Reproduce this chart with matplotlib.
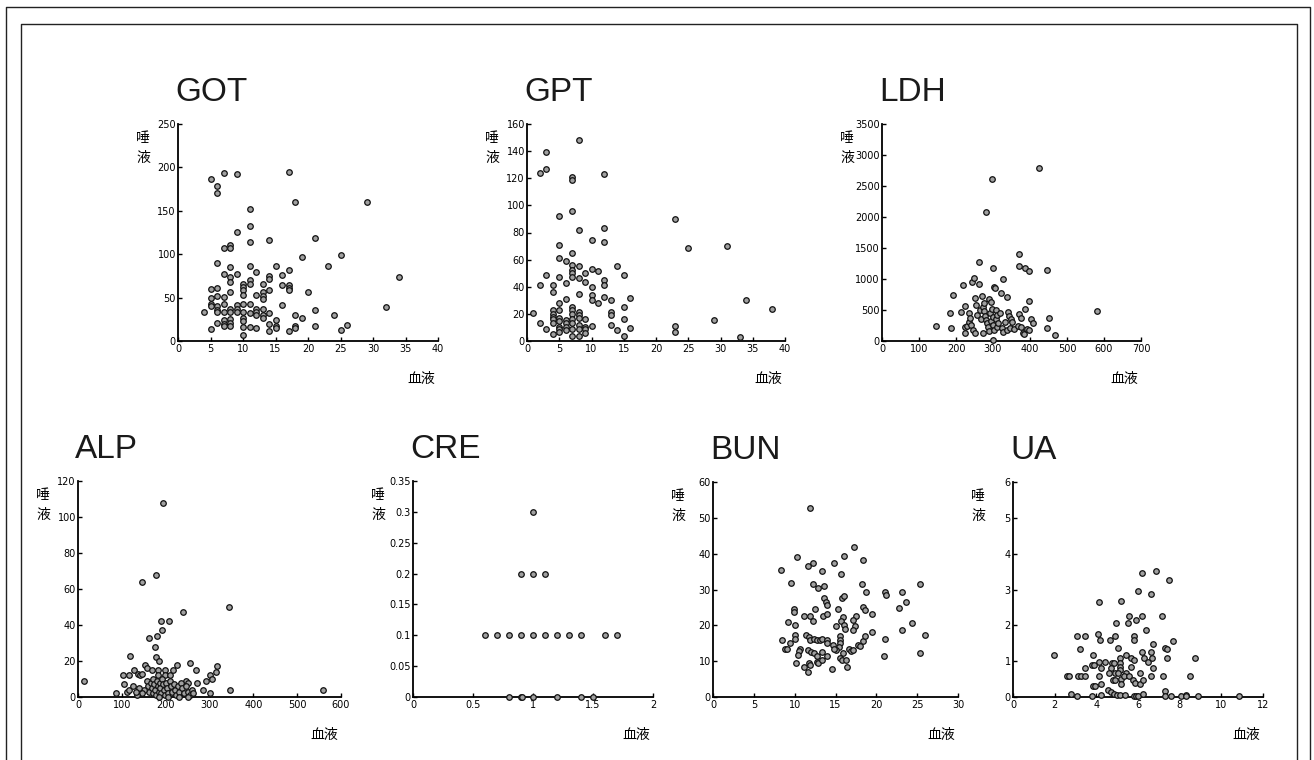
import numpy as np
import matplotlib
matplotlib.use("Agg")
import matplotlib.pyplot as plt
from matplotlib.lines import Line2D

plt.rcParams['font.family'] = ['DejaVu Sans', 'Noto Sans CJK JP']

# (血液, 唾液) pairs
got_points = [(4, 33), (5, 187), (6, 179), (6, 170), (7, 193), (9, 192), (17, 195), (18, 160), (29, 160),
              (11, 152), (11, 132), (9, 126), (11, 114), (14, 116), (21, 119), (7, 107), (8, 111), (8, 107),
              (19, 97), (25, 99), (23, 86), (6, 90), (8, 85), (11, 86), (15, 86), (12, 80), (7, 77), (9, 77),
              (8, 74), (8, 68), (17, 82), (16, 76), (14, 75), (14, 71), (34, 74), (10, 66), (10, 62), (10, 59),
              (11, 70), (11, 66), (13, 66), (16, 64), (17, 64), (17, 61), (17, 59), (14, 59), (5, 60), (6, 61),
              (8, 57), (20, 56), (13, 57), (13, 52), (13, 48), (12, 53), (10, 53), (5, 49), (6, 52), (7, 51),
              (5, 43), (5, 40), (6, 40), (6, 36), (6, 33), (7, 43), (7, 33), (8, 37), (8, 33), (9, 41), (9, 37),
              (9, 33), (10, 43), (10, 33), (10, 27), (10, 23), (11, 43), (11, 32), (12, 37), (12, 33), (12, 30),
              (13, 37), (13, 30), (13, 27), (14, 32), (16, 41), (18, 30), (19, 27), (21, 36), (24, 30), (32, 39),
              (6, 21), (7, 24), (7, 20), (7, 17), (8, 25), (8, 21), (8, 17), (15, 24), (15, 17), (15, 15),
              (14, 20), (5, 14), (10, 16), (11, 16), (12, 15), (14, 11), (17, 11), (18, 17), (18, 15), (21, 17),
              (25, 13), (26, 19), (10, 7)]

gpt_points = [(1, 21), (2, 124), (2, 41), (2, 13), (3, 139), (3, 127), (3, 49), (3, 9), (4, 41), (4, 36),
              (4, 23), (4, 20), (4, 18), (4, 16), (4, 13.5), (4, 5), (5, 92), (5, 71), (5, 61), (5, 47.5),
              (5, 28), (5, 23), (5, 17), (5, 15), (5, 10.6), (5, 8.6), (5, 6.6), (6, 59), (6, 43), (6, 31),
              (6, 15.5), (6, 13), (6, 10.6), (6, 8), (7, 121), (7, 119), (7, 95.5), (7, 65), (7, 56), (7, 52),
              (7, 50), (7, 47.5), (7, 25), (7, 23), (7, 20), (7, 16.5), (7, 13.5), (7, 8.6), (7, 4), (8, 148),
              (8, 81.5), (8, 55), (8, 46.5), (8, 35), (8, 21.6), (8, 19), (8, 17), (8, 12), (8, 9), (8, 3.7),
              (9, 50.5), (9, 43.5), (9, 16), (9, 10.6), (9, 8.6), (9, 6), (10, 74.6), (10, 53.4), (10, 39.6),
              (10, 33.7), (10, 30), (10, 11), (11, 51.4), (11, 28), (12, 123), (12, 83.4), (12, 73), (12, 45),
              (12, 41.6), (12, 32.7), (13, 30), (13, 21.6), (13, 19), (13, 11.6), (14, 55.4), (14, 8), (15, 49),
              (15, 25), (15, 16), (15, 3.7), (16, 31.5), (16, 9.6), (23, 90), (23, 11), (23, 6.6), (25, 68.7),
              (29, 15.5), (31, 70), (33, 3), (34, 30), (38, 23.4)]

ldh_points = [(146, 242), (184, 446), (186, 205), (191, 735), (214, 470), (220, 903), (223, 124), (223, 220),
              (225, 570), (231, 240), (234, 306), (236, 446), (237, 379), (240, 258), (243, 957), (249, 1011),
              (247, 177), (250, 689), (252, 124), (253, 576), (256, 420), (261, 914), (263, 1269), (265, 500),
              (268, 350), (270, 731), (272, 124), (273, 544), (275, 608), (276, 479), (279, 404), (281, 2075),
              (282, 339), (284, 285), (286, 231), (288, 167), (290, 677), (292, 447), (294, 624), (295, 329),
              (297, 2615), (298, 512), (299, 258), (300, 20), (301, 1172), (301, 382), (303, 871), (303, 178),
              (306, 850), (307, 500), (307, 361), (310, 415), (310, 231), (314, 296), (318, 450), (321, 768),
              (324, 205), (328, 1000), (328, 150), (333, 307), (339, 705), (339, 177), (340, 473), (344, 408),
              (346, 215), (348, 355), (351, 300), (357, 194), (368, 242), (369, 435), (370, 1405), (371, 1205),
              (375, 365), (377, 226), (380, 135), (384, 108), (386, 1182), (387, 516), (393, 189), (396, 177),
              (398, 1129), (398, 645), (403, 355), (409, 290), (425, 2785), (445, 1140), (447, 205), (451, 376),
              (467, 97), (582, 490)]

alp_points = [(13, 9), (86, 2), (105, 7), (103, 12), (112, 3), (117, 4), (117, 12), (118, 23), (125, 6),
              (128, 15), (136, 13), (141, 12), (146, 64), (147, 13), (153, 18), (157, 16), (163, 33), (168, 15),
              (175, 28), (179, 68), (179, 22), (181, 34), (183, 15), (183, 12), (185, 20), (190, 42), (191, 37),
              (195, 108), (198, 15), (198, 12), (208, 42), (210, 12), (216, 15), (225, 18), (240, 47), (247, 9),
              (252, 8), (256, 19), (269, 15), (271, 8), (285, 4), (292, 9), (300, 2), (302, 12), (305, 10),
              (314, 14), (318, 17), (345, 50), (347, 4), (558, 4),
              (157, 9), (160, 6), (163, 3), (166, 8), (168, 5), (170, 2), (172, 10), (174, 7), (176, 4), (178, 1),
              (180, 9), (182, 6), (184, 3), (186, 8), (188, 5), (190, 2), (192, 10), (194, 7), (196, 4), (198, 1),
              (200, 8), (203, 5), (206, 2), (209, 9), (212, 6), (215, 3), (218, 7), (221, 4), (224, 1), (227, 6),
              (230, 3), (234, 8), (238, 5), (242, 2), (246, 6), (250, 3), (255, 1), (260, 4), (263, 2), (150, 4),
              (145, 2), (140, 5), (135, 1), (132, 3), (205, 0), (185, 0), (230, 0), (250, 0)]

cre_points = [(1.0, 0.3), (0.9, 0.2), (1.0, 0.2), (1.1, 0.2),
              (0.6, 0.1), (0.7, 0.1), (0.8, 0.1), (0.9, 0.1), (1.0, 0.1), (1.1, 0.1), (1.2, 0.1), (1.3, 0.1),
              (1.4, 0.1), (1.6, 0.1), (1.7, 0.1),
              (0.8, 0.0), (0.9, 0.0), (0.91, 0.0), (1.0, 0.0), (1.2, 0.0), (1.4, 0.0), (1.5, 0.0)]

bun_points = [(11.9, 52.7), (17.3, 41.8), (10.3, 39.1), (16.0, 39.4), (18.4, 38.3), (12.3, 37.5), (11.6, 36.5),
              (14.8, 37.5), (8.3, 35.5), (13.3, 35.2), (15.7, 34.3), (9.6, 31.7), (12.3, 31.5), (12.9, 30.5),
              (13.6, 31.1), (18.2, 31.5), (25.4, 31.5), (18.7, 29.4), (21.0, 29.2), (21.2, 28.4), (23.2, 29.2),
              (13.6, 27.6), (13.8, 26.6), (13.9, 25.7), (15.75, 27.7), (16.1, 28.2), (23.6, 26.4), (9.9, 24.6),
              (9.9, 23.7), (12.5, 24.5), (15.3, 24.6), (18.4, 25.2), (18.6, 24.3), (22.8, 24.9), (11.1, 22.7),
              (11.9, 22.7), (13.5, 22.7), (14.0, 23.2), (15.9, 22.4), (17.5, 22.7), (19.5, 23.2), (12.3, 21.2),
              (15.7, 21.2), (17.1, 21.5), (9.2, 20.9), (10.1, 20.0), (15.1, 19.7), (16.1, 20.1), (16.2, 18.9),
              (17.4, 19.9), (17.1, 18.7), (24.4, 20.6), (19.5, 18.2), (23.2, 18.6), (26.0, 17.4), (8.4, 16.0),
              (10.0, 17.3), (10.1, 16.1), (11.4, 17.3), (11.7, 16.7), (11.9, 16.0), (12.4, 16.1), (12.7, 15.8),
              (13.1, 16.0), (13.4, 16.3), (13.9, 16.0), (13.9, 15.0), (15.5, 16.9), (15.6, 16.0), (15.5, 15.0),
              (15.4, 13.9), (15.1, 13.0), (14.65, 14.6), (14.8, 13.5), (18.4, 15.7), (18.6, 17.1), (17.7, 14.5),
              (18.0, 14.3), (9.4, 15.0), (8.8, 13.5), (9.1, 13.4), (10.6, 13.5), (10.5, 12.7), (10.4, 11.7),
              (11.6, 13.0), (12.0, 12.6), (12.4, 12.2), (12.7, 11.5), (13.3, 12.5), (13.9, 11.5), (12.7, 9.9),
              (12.9, 9.5), (13.4, 10.2), (16.7, 13.5), (16.85, 12.7), (17.2, 13.2), (15.9, 12.4), (20.9, 11.5),
              (25.4, 12.2), (15.6, 10.9), (15.75, 10.2), (16.3, 10.2), (10.2, 9.5), (11.8, 9.5), (11.9, 8.9),
              (11.1, 8.3), (16.4, 8.5), (14.6, 7.9), (11.6, 6.9), (21.0, 16.1)]

ua_points = [(6.87, 3.53), (6.2, 3.46), (7.48, 3.27), (6.0, 2.96), (6.6, 2.88), (4.14, 2.64), (5.2, 2.67),
             (5.58, 2.27), (6.2, 2.27), (7.17, 2.27), (5.5, 2.06), (5.9, 2.15), (4.93, 2.06), (6.4, 1.86),
             (3.05, 1.69), (3.47, 1.69), (4.1, 1.76), (4.17, 1.6), (4.65, 1.58), (4.9, 1.69), (5.8, 1.69),
             (5.8, 1.58), (6.7, 1.48), (7.7, 1.55), (3.2, 1.35), (5.04, 1.38), (7.3, 1.36), (7.37, 1.34),
             (1.96, 1.17), (3.82, 1.17), (5.4, 1.18), (6.2, 1.25), (6.6, 1.25), (5.65, 1.08), (5.8, 1.02),
             (6.3, 1.09), (6.5, 0.99), (6.66, 1.09), (7.4, 1.09), (8.73, 1.09), (4.14, 0.98), (4.41, 0.98),
             (4.73, 0.96), (4.85, 0.96), (5.13, 1.08), (5.13, 0.96), (5.13, 0.85), (5.13, 0.76), (3.79, 0.89),
             (3.91, 0.89), (3.47, 0.8), (4.2, 0.8), (4.68, 0.8), (5.65, 0.85), (6.1, 0.67), (6.7, 0.8),
             (2.6, 0.58), (2.7, 0.58), (3.1, 0.58), (3.27, 0.58), (3.45, 0.58), (4.14, 0.58), (4.62, 0.67),
             (4.78, 0.48), (4.88, 0.48), (4.9, 0.67), (5.04, 0.67), (5.2, 0.5), (5.2, 0.37), (5.4, 0.67),
             (5.33, 0.58), (5.58, 0.58), (5.75, 0.48), (5.87, 0.39), (6.1, 0.37), (6.22, 0.48), (6.6, 0.58),
             (7.2, 0.58), (8.5, 0.58), (3.82, 0.3), (3.93, 0.3), (4.2, 0.37), (4.56, 0.2), (4.68, 0.13),
             (4.85, 0.09), (5.0, 0.06), (5.13, 0.06), (5.36, 0.06), (2.76, 0.09), (3.05, 0.02), (3.77, 0.02),
             (4.2, 0.06), (5.8, 0.04), (5.9, 0.04), (6.0, 0.04), (6.22, 0.09), (7.28, 0.18), (7.28, 0.02),
             (7.6, 0.02), (8.05, 0.02), (8.28, 0.06), (8.3, 0.02), (8.9, 0.02), (10.85, 0.02)]

titles = ['GOT', 'GPT', 'LDH', 'ALP', 'CRE', 'BUN', 'UA']
x_ticks = [[0, 5, 10, 15, 20, 25, 30, 35, 40],
           [0, 5, 10, 15, 20, 25, 30, 35, 40],
           [0, 100, 200, 300, 400, 500, 600, 700],
           [0, 100, 200, 300, 400, 500, 600],
           [0, 0.5, 1, 1.5, 2],
           [0, 5, 10, 15, 20, 25, 30],
           [0, 2, 4, 6, 8, 10, 12]]
y_ticks = [[0, 50, 100, 150, 200, 250],
           [0, 20, 40, 60, 80, 100, 120, 140, 160],
           [0, 500, 1000, 1500, 2000, 2500, 3000, 3500],
           [0, 20, 40, 60, 80, 100, 120],
           [0, 0.05, 0.1, 0.15, 0.2, 0.25, 0.3, 0.35],
           [0, 10, 20, 30, 40, 50, 60],
           [0, 1, 2, 3, 4, 5, 6]]
all_points = [got_points, gpt_points, ldh_points, alp_points, cre_points, bun_points, ua_points]

# axes boxes in pixels: left, top, right, bottom
boxes = [(178, 124, 438, 341), (527, 124, 785, 341), (882, 124, 1141, 341),
         (78, 481, 341, 697), (413, 481, 653, 697), (713, 482, 958, 697), (1013, 482, 1263, 697)]

W, H = 1314, 760
fig = plt.figure(figsize=(W / 100, H / 100), dpi=100)
fig.patch.set_facecolor('white')

cjk = ['Noto Sans CJK JP', 'DejaVu Sans']

for title, pts, xt, yt, (l, t, r, b) in zip(titles, all_points, x_ticks, y_ticks, boxes):
    ax = fig.add_axes([l / W, 1 - b / H, (r - l) / W, (b - t) / H])
    arr = np.array(pts, dtype=float)
    ax.scatter(arr[:, 0], arr[:, 1], s=16, facecolor='#a0a0a0', edgecolor='#111111',
               linewidth=0.9, clip_on=False, zorder=3)
    ax.set_xlim(xt[0], xt[-1])
    ax.set_ylim(yt[0], yt[-1])
    ax.set_xticks(xt)
    ax.set_yticks(yt)
    ax.set_xticklabels(['%g' % v for v in xt])
    ax.set_yticklabels(['%g' % v for v in yt])
    for side in ['top', 'right']:
        ax.spines[side].set_visible(False)
    for side in ['left', 'bottom']:
        ax.spines[side].set_linewidth(1.3)
        ax.spines[side].set_color('black')
    ax.tick_params(direction='in', length=3, width=1, labelsize=7, colors='black')
    ax.tick_params(axis='y', pad=1.5)
    ax.tick_params(axis='x', pad=2)
    ax.set_facecolor('none')

    # panel title, left aligned with the axis
    fig.text((l - 3) / W, 1 - (t - 23) / H, title, fontsize=24, family='Liberation Sans',
             ha='left', va='baseline', color='#1a1a1a')
    # y label stacked vertically
    fig.text((l - 35) / W, 1 - (t + 24) / H, '唾\n液', fontsize=10, family=cjk,
             ha='center', va='center', linespacing=1.5)
    # x label
    fig.text((r - 17) / W, 1 - (b + 38) / H, '血液', fontsize=10, family=cjk,
             ha='center', va='center')

# double frame round the page, open at the bottom
for x0, y0, x1 in [(6, 7, 1310), (21, 24, 1297)]:
    xs = [x0 / W, x0 / W, x1 / W, x1 / W]
    ys = [0, 1 - y0 / H, 1 - y0 / H, 0]
    fig.add_artist(Line2D(xs, ys, color='#222222', linewidth=1.0))

fig.savefig('out.png', dpi=100)
